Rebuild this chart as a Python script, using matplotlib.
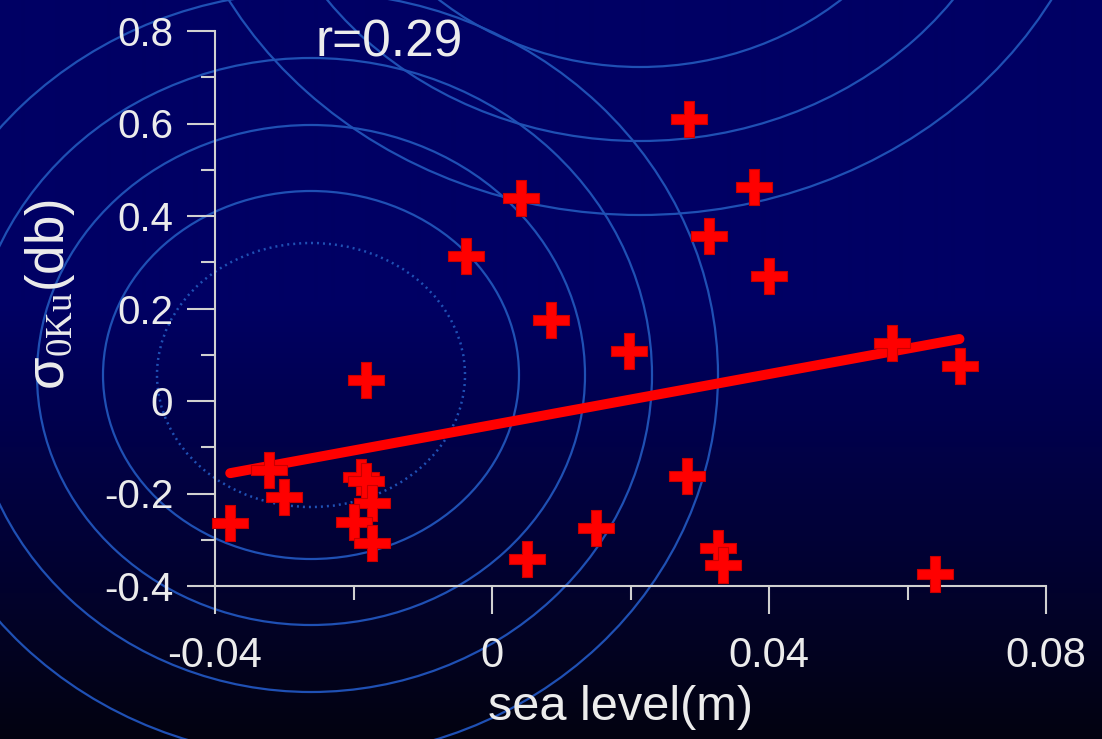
import numpy as np
import matplotlib
matplotlib.use("Agg")
import matplotlib.pyplot as plt
from matplotlib.patches import Ellipse
from matplotlib.path import Path

# sea level anomaly (m) vs Ku-band backscatter anomaly (db)
sea_level = [0.0284, 0.0378, 0.0042, 0.0314, -0.0038, 0.0400, 0.0085, 0.0198,
             0.0577, 0.0676, -0.0182, -0.0322, -0.0300, -0.0379, -0.0189, -0.0182,
             -0.0174, -0.0199, -0.0173, 0.0050, 0.0282, 0.0150, 0.0327, 0.0333, 0.0639]
sigma0 = [0.610, 0.463, 0.440, 0.357, 0.313, 0.271, 0.175, 0.108,
          0.126, 0.075, 0.045, -0.150, -0.207, -0.263, -0.164, -0.173,
          -0.220, -0.261, -0.308, -0.342, -0.162, -0.275, -0.318, -0.355, -0.375]

# regression line end points
fit_x = [-0.0378, 0.0675]
fit_y = [-0.156, 0.134]
r_value = 0.29

xticks = [-0.04, 0, 0.04, 0.08]
xtick_labels = ["-0.04", "0", "0.04", "0.08"]
yticks = [-0.4, -0.2, 0, 0.2, 0.4, 0.6, 0.8]
ytick_labels = ["-0.4", "-0.2", "0", "0.2", "0.4", "0.6", "0.8"]

# background rings (pixel units): centre, vertical radii
rings_a_center = (311, 375)
rings_a_radii = [184, 250, 317, 383]
rings_a_dotted = 132
rings_b_center = (640, -206)
rings_b_radii = [273, 347, 421]

W, H = 1102, 739
plt.rcParams["font.family"] = ["Liberation Sans", "DejaVu Sans"]
plt.rcParams["mathtext.fontset"] = "custom"
plt.rcParams["mathtext.rm"] = "Liberation Serif"

fig = plt.figure(figsize=(W / 100, H / 100), dpi=100)
fig.patch.set_facecolor("black")

# gradient background + decorative rings
bg = fig.add_axes([0, 0, 1, 1])
bg.set_xlim(0, W)
bg.set_ylim(H, 0)
bg.axis("off")
rows = np.arange(H)
t = np.clip((rows - 300) / (H - 300), 0, 1)
top = np.array([0, 0, 100]) / 255
bottom = np.array([3, 3, 16]) / 255
grad = top[None, :] * (1 - t[:, None]) + bottom[None, :] * t[:, None]
bg.imshow(grad[:, None, :], extent=[0, W, H, 0], aspect="auto", interpolation="bilinear")

ring_color = "#1f50b4"
for b in rings_a_radii:
    bg.add_patch(Ellipse(rings_a_center, 2 * (b + 24), 2 * b, fill=False,
                         edgecolor=ring_color, lw=1.6))
bg.add_patch(Ellipse(rings_a_center, 2 * (rings_a_dotted + 22), 2 * rings_a_dotted,
                     fill=False, edgecolor=ring_color, lw=1.8, linestyle=(0, (0.8, 1.6))))
for b in rings_b_radii:
    bg.add_patch(Ellipse(rings_b_center, 2 * 1.12 * b, 2 * b, fill=False,
                         edgecolor=ring_color, lw=1.6))

# main plot
ax = fig.add_axes([215 / W, 1 - 586 / H, (1046 - 215) / W, (586 - 31) / H])
ax.set_facecolor("none")
ax.set_xlim(-0.04, 0.08)
ax.set_ylim(-0.4, 0.8)

axis_color = "#d0d0d0"
text_color = "#ececec"
for side in ["top", "right"]:
    ax.spines[side].set_visible(False)
for side in ["left", "bottom"]:
    ax.spines[side].set_color(axis_color)
    ax.spines[side].set_linewidth(1.5)

ax.set_xticks(xticks)
ax.set_xticklabels(xtick_labels)
ax.set_xticks([-0.02, 0.02, 0.06], minor=True)
ax.set_yticks(yticks)
ax.set_yticklabels(ytick_labels)
ax.set_yticks([-0.3, -0.1, 0.1, 0.3, 0.5, 0.7], minor=True)
ax.tick_params(which="major", length=20, width=1.5, color=axis_color,
               labelcolor=text_color, labelsize=29, pad=10)
ax.tick_params(which="minor", length=10, width=1.5, color=axis_color)
ax.tick_params(axis="x", which="major", labelsize=30, pad=16)

# thick plus marker
h, w = 0.5, 0.135
plus = Path([(-w, -h), (w, -h), (w, -w), (h, -w), (h, w), (w, w), (w, h),
             (-w, h), (-w, w), (-h, w), (-h, -w), (-w, -w), (-w, -h)],
            closed=True)

ax.plot(fit_x, fit_y, color="#ff0000", lw=7.2, solid_capstyle="round", zorder=3)
ax.plot(sea_level, sigma0, linestyle="none", marker=plus, markersize=26,
        markerfacecolor="#ff0000", markeredgecolor="#c80000", markeredgewidth=0.8,
        clip_on=False, zorder=4)

ax.text(-0.0255, 0.744, f"r={r_value:.2f}", color=text_color, fontsize=37,
        ha="left", va="baseline")

fig.text(620 / W, 1 - 720 / H, "sea level(m)", color=text_color, fontsize=35,
         ha="center", va="baseline")
fig.text(50 / W, 1 - 295 / H, r"σ$_{\mathrm{0Ku}}$(db)", color=text_color,
         fontsize=38, rotation=90, ha="center", va="center")

fig.savefig("out.png", dpi=100, facecolor=fig.get_facecolor())
